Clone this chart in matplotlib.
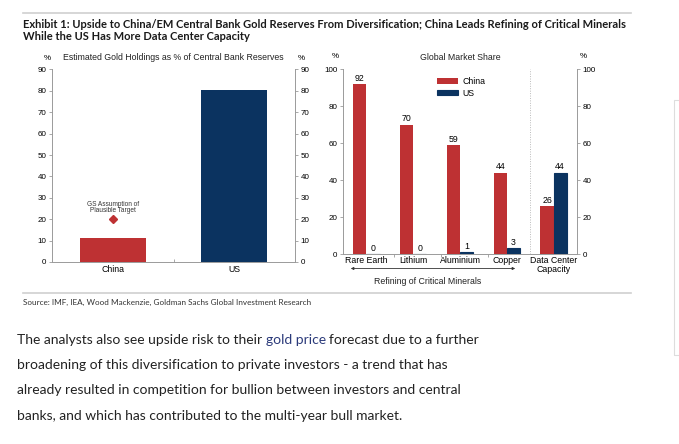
import matplotlib.pyplot as plt
from matplotlib.patches import Rectangle
import numpy as np

# Left panel: gold holdings as % of central bank reserves
gold_countries = ["China", "US"]
gold_share = [11, 80.5]
gold_target_china = 20

# Right panel: global market share
minerals = ["Rare Earth", "Lithium", "Aluminium", "Copper", "Data Center\nCapacity"]
china_share = [92, 70, 59, 44, 26]
us_share = [0, 0, 1, 3, 44]

RED = "#BE3133"
NAVY = "#0B3360"
GREY = "#9a9a9a"

W, H = 679, 444
fig = plt.figure(figsize=(W / 100, H / 100), dpi=100)
fig.patch.set_facecolor("white")


def px(x0, y0, x1, y1):
    # pixel box (top-left origin) -> figure fraction rect
    return [x0 / W, 1 - y1 / H, (x1 - x0) / W, (y1 - y0) / H]


def fx(x):
    return x / W


def fy(y):
    return 1 - y / H


chart_font = "Liberation Sans"
tick_fs = 5.8
lab_fs = 6.3

# header / rules
fig.add_artist(plt.Line2D([fx(23), fx(631)], [fy(13), fy(13)], color="#cfcfcf", lw=1.2))
fig.text(fx(23), fy(24), "Exhibit 1: Upside to China/EM Central Bank Gold Reserves From Diversification; China Leads Refining of Critical Minerals",
         fontsize=8.0, fontweight="bold", family="Lato", color="#1a1a1a", va="center")
fig.text(fx(23), fy(37), "While the US Has More Data Center Capacity",
         fontsize=8.0, fontweight="bold", family="Lato", color="#1a1a1a", va="center")

# ---------- left panel ----------
ax1 = fig.add_axes(px(52, 69.5, 295, 262))
x1 = np.arange(len(gold_countries))
ax1.bar(x1, gold_share, width=0.54, color=[RED, NAVY])
ax1.plot([0], [gold_target_china], marker="D", color=RED, markersize=4.2, linestyle="none")
ax1.text(0, gold_target_china + 2.3, "GS Assumption of\nPlausible Target", ha="center", va="bottom",
         fontsize=4.7, family=chart_font, color="#333333", linespacing=0.9)
ax1.set_xlim(-0.5, 1.5)
ax1.set_ylim(0, 90)
ax1.set_yticks(range(0, 91, 10))
ax1.set_xticks(x1)
ax1.set_xticklabels(gold_countries)
ax1.set_xticks([0.5], minor=True)
ax1.tick_params(axis="x", which="major", length=0, pad=2, labelsize=lab_fs)
ax1.tick_params(axis="x", which="minor", length=2, direction="in", color=GREY, width=0.6)
ax1.tick_params(axis="y", length=2.5, width=0.6, color=GREY, labelsize=tick_fs, pad=1.5,
                left=True, right=True, labelleft=True, labelright=True)
ax1.spines["top"].set_visible(False)
for s in ["left", "right", "bottom"]:
    ax1.spines[s].set_color(GREY)
    ax1.spines[s].set_linewidth(0.7)
for lab in ax1.get_xticklabels() + ax1.get_yticklabels():
    lab.set_family(chart_font)
fig.text(fx(47), fy(58), "%", fontsize=tick_fs, family=chart_font, ha="center", va="center")
fig.text(fx(301), fy(58), "%", fontsize=tick_fs, family=chart_font, ha="center", va="center")
fig.text(fx(173), fy(58), "Estimated Gold Holdings as % of Central Bank Reserves", fontsize=lab_fs,
         family=chart_font, ha="center", va="center", color="#222222")

# ---------- right panel ----------
ax2 = fig.add_axes(px(343, 69, 577, 254))
x2 = np.arange(len(minerals))
bw = 0.28
ax2.bar(x2 - bw / 2, china_share, width=bw, color=RED, label="China")
ax2.bar(x2 + bw / 2, us_share, width=bw, color=NAVY, edgecolor=NAVY, linewidth=0.8, label="US")
for xi, v in zip(x2, china_share):
    ax2.text(xi - bw / 2, v + 0.6, str(v), ha="center", va="bottom", fontsize=lab_fs, family=chart_font)
for xi, v in zip(x2, us_share):
    ax2.text(xi + bw / 2, v + 0.6, str(v), ha="center", va="bottom", fontsize=lab_fs, family=chart_font)
ax2.axvline(3.5, color="#bbbbbb", lw=0.7, ls=(0, (1, 1.5)))
ax2.set_xlim(-0.5, 4.5)
ax2.set_ylim(0, 100)
ax2.set_yticks(range(0, 101, 20))
ax2.set_xticks(x2)
ax2.set_xticklabels(minerals, linespacing=1.0)
ax2.set_xticks([0.6, 1.6, 2.6], minor=True)
ax2.tick_params(axis="x", which="major", length=0, pad=1.5, labelsize=lab_fs)
ax2.tick_params(axis="x", which="minor", length=2, direction="out", color=GREY, width=0.6)
ax2.tick_params(axis="y", length=2.5, width=0.6, color=GREY, labelsize=tick_fs, pad=1.5,
                left=True, right=True, labelleft=True, labelright=True)
ax2.spines["top"].set_visible(False)
for s in ["left", "right", "bottom"]:
    ax2.spines[s].set_color(GREY)
    ax2.spines[s].set_linewidth(0.7)
for lab in ax2.get_xticklabels() + ax2.get_yticklabels():
    lab.set_family(chart_font)
leg = ax2.legend(loc="upper left", bbox_to_anchor=(0.37, 1.0), frameon=False,
                 handlelength=2.4, handleheight=0.6, handletextpad=0.5, labelspacing=0.3,
                 prop={"family": chart_font, "size": lab_fs})
fig.text(fx(335), fy(57), "%", fontsize=tick_fs, family=chart_font, ha="center", va="center")
fig.text(fx(583), fy(57), "%", fontsize=tick_fs, family=chart_font, ha="center", va="center")
fig.text(fx(460), fy(58), "Global Market Share", fontsize=lab_fs, family=chart_font, ha="center", va="center",
         color="#222222")
# arrow spanning minerals
ax2.annotate("", xy=(fx(348), fy(268.5)), xytext=(fx(518), fy(268.5)), xycoords="figure fraction",
             textcoords="figure fraction",
             arrowprops=dict(arrowstyle="<|-|>", color="#333333", lw=0.6, mutation_scale=4))
fig.text(fx(428), fy(282), "Refining of Critical Minerals", fontsize=lab_fs, family=chart_font,
         ha="center", va="center", color="#222222")

# footer
fig.add_artist(plt.Line2D([fx(23), fx(631)], [fy(293), fy(293)], color="#cfcfcf", lw=1.2))
fig.text(fx(23), fy(302.5), "Source: IMF, IEA, Wood Mackenzie, Goldman Sachs Global Investment Research",
         fontsize=5.9, family="Lato", color="#333333", va="center")

# paragraph text
para_fs = 10.0
line_y = [339.5, 365, 390.5, 416]
lines = [
    None,
    "broadening of this diversification to private investors - a trend that has",
    "already resulted in competition for bullion between investors and central",
    "banks, and which has contributed to the multi-year bull market.",
]
# first line with link coloured words
t1 = fig.text(fx(17), fy(line_y[0]), "The analysts also see upside risk to their ", fontsize=para_fs,
              family="Lato", color="#222222", va="center")
fig.canvas.draw()
r = fig.canvas.get_renderer()
bb = t1.get_window_extent(r)
t2 = fig.text(bb.x1 / W, fy(line_y[0]), "gold price", fontsize=para_fs, family="Lato", color="#2b3a7a", va="center")
bb2 = t2.get_window_extent(r)
fig.text(bb2.x1 / W + 3 / W, fy(line_y[0]), "forecast due to a further", fontsize=para_fs, family="Lato",
         color="#222222", va="center")
for y, s in zip(line_y[1:], lines[1:]):
    fig.text(fx(17), fy(y), s, fontsize=para_fs, family="Lato", color="#222222", va="center")

# faint panel border at right edge of the page
fig.add_artist(Rectangle((fx(674), fy(355)), fx(20), (355 - 100) / H, fill=False, edgecolor="#dddddd", lw=0.8))

fig.savefig("out.png", dpi=100, facecolor="white")
